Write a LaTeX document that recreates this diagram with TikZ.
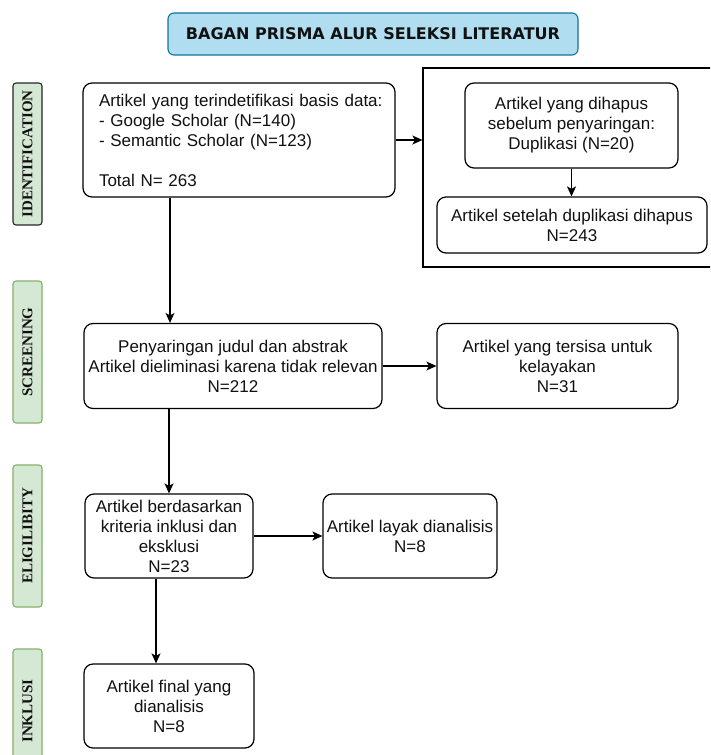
\documentclass[tikz,border=0pt]{standalone}
\usepackage{fontspec}
\setmainfont{Liberation Sans}
\newfontfamily\sidefont{Liberation Serif}
\newfontfamily\titlefont{DejaVu Sans}
\usetikzlibrary{arrows.meta}
\definecolor{txt}{HTML}{111111}
\definecolor{titlefill}{HTML}{B1DDF0}
\definecolor{titledraw}{HTML}{10739E}
\definecolor{greenfill}{HTML}{D5E8D4}
\definecolor{greendraw}{HTML}{82B366}
\begin{document}
\begin{tikzpicture}[x=1pt,y=-1pt,
  every node/.style={text=txt},
  box/.style={draw=black, line width=1.2pt, rounded corners=9pt, fill=white, inner sep=0pt,
    font=\fontsize{17}{20}\selectfont, align=center},
  side/.style={draw=greendraw, fill=greenfill, line width=1.1pt, rounded corners=3pt,
    minimum height=29pt, inner sep=0pt, font=\sidefont\bfseries\fontsize{15}{15}\selectfont, rotate=90},
  arr/.style={draw=black, line width=1.2pt, -{Stealth[length=10pt,width=9pt,inset=2.5pt]}}
]
\useasboundingbox (0,0) rectangle (710,755);
\clip (0,0) rectangle (710,755);

% title
\node[draw=titledraw, fill=titlefill, line width=1.1pt, rounded corners=6pt,
  minimum width=410pt, minimum height=42pt, inner sep=0pt,
  font=\titlefont\bfseries\fontsize{16}{16}\selectfont] (title) at (373,34)
  {BAGAN PRISMA ALUR SELEKSI LITERATUR};

% side labels
\node[side, draw=black!85, minimum width=142pt] (sid) at (27.5,154) {IDENTIFICATION};
\node[side, minimum width=142pt] (sscr) at (27.5,352) {SCREENING};
\node[side, minimum width=142pt] (selg) at (27.5,536) {ELIGILIBITY};
\node[side, minimum width=124pt] (sink) at (27.5,711) {INKLUSI};

% identification
\node[box, minimum width=312pt, minimum height=114pt, text width=296pt, align=left] (b1) at (239,140)
  {\hspace*{8pt}Artikel yang terindetifikasi basis data:\\\hspace*{8pt}- Google Scholar (N=140)\\\hspace*{8pt}- Semantic Scholar (N=123)\\[20pt]\hspace*{8pt}Total N= 263};
\node[draw=black, line width=1.2pt, minimum width=289pt, minimum height=199pt, inner sep=0pt] (outer) at (567.5,167.5) {};
\node[box, minimum width=213pt, minimum height=85pt] (in1) at (571.5,125.5)
  {Artikel yang dihapus\\sebelum penyaringan:\\Duplikasi (N=20)};
\node[box, minimum width=270pt, minimum height=56pt] (in2) at (572,225)
  {Artikel setelah duplikasi dihapus\\N=243};

% screening
\node[box, minimum width=298pt, minimum height=85pt] (scr) at (233,366)
  {Penyaringan judul dan abstrak\\Artikel dieliminasi karena tidak relevan\\N=212};
\node[box, minimum width=241pt, minimum height=85pt] (rem) at (557.5,366)
  {Artikel yang tersisa untuk\\kelayakan\\N=31};

% eligibility
\node[box, minimum width=168pt, minimum height=84pt] (elg) at (169,536)
  {Artikel berdasarkan\\kriteria inklusi dan\\eksklusi\\N=23};
\node[box, minimum width=174pt, minimum height=84pt] (lay) at (410,536)
  {Artikel layak dianalisis\\N=8};

% inklusi
\node[box, minimum width=170pt, minimum height=84pt] (fin) at (169,706)
  {Artikel final yang\\dianalisis\\N=8};

% connectors
\coordinate (xa) at (170,0);
\coordinate (xb) at (169,0);
\coordinate (xc) at (156,0);
\draw[arr] (b1.east) -- (b1.east -| outer.west);
\draw[arr] (in1.south) -- (in1.south |- in2.north);
\draw[arr] (b1.south -| xa) -- (scr.north -| xa);
\draw[arr] (scr.east) -- (rem.west);
\draw[arr] (scr.south -| xb) -- (elg.north -| xb);
\draw[arr] (elg.east) -- (lay.west);
\draw[arr] (elg.south -| xc) -- (fin.north -| xc);
\end{tikzpicture}
\end{document}
